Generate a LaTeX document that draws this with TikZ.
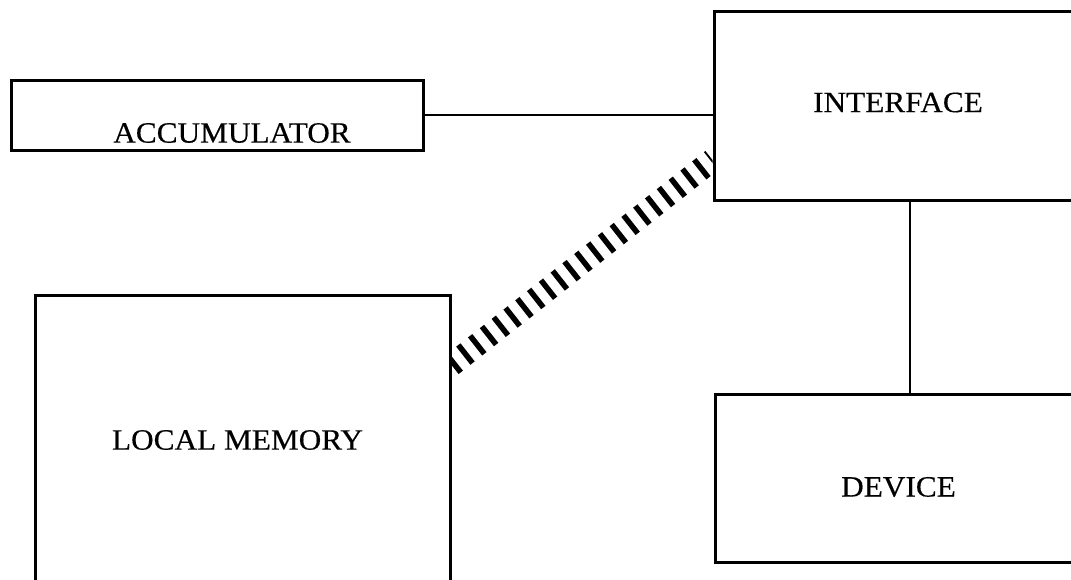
\documentclass[tikz,border=0pt]{standalone}
\usepackage{fontspec}
\setmainfont[FakeStretch=1.06,FakeBold=0.4]{Liberation Serif}
\usetikzlibrary{calc}
\begin{document}
\begin{tikzpicture}[x=1pt,y=-1pt,
  box/.style={draw, line width=3pt, rectangle, inner sep=0pt},
  lbl/.style={font=\fontsize{29.5}{32}\selectfont, inner sep=0pt},
  wire/.style={line width=2.6pt},
  hatch/.style={line width=23pt, dash pattern=on 5.5pt off 9.5pt}]
\useasboundingbox (0,0) rectangle (1071,579);
\clip (0,0) rectangle (1071,579);
% boxes
\node[box, minimum width=368pt, minimum height=189pt] (iface) at (898,105.5) {};
\node[box, minimum width=367pt, minimum height=168pt] (dev) at (898.5,478) {};
\node[box, minimum width=412pt, minimum height=70pt] (acc) at (217,115) {};
\node[box, minimum width=415pt, minimum height=320pt] (mem) at (242.5,455) {};
% labels
\node[lbl] (ifacel) at ($(iface.center)+(0,-3)$) {INTERFACE};
\node[lbl] (devl) at ($(dev.center)+(0,9)$) {DEVICE};
\node[lbl] (accl) at ($(acc.center)+(15,18)$) {ACCUMULATOR};
\node[lbl] (meml) at ($(mem.center)+(-5,-15)$) {LOCAL MEMORY};
% connectors
\draw[wire] (acc.east) -- (acc.east -| iface.west);
\coordinate (ib) at ($(iface.south)+(12,0)$);
\draw[wire] (ib) -- (ib |- dev.north);
\coordinate (hs) at (mem.east |- 0,365);
\coordinate (he) at (iface.west |- 0,160);
\begin{scope}
  \clip (hs |- 0,0) rectangle (he |- 0,579);
  \draw[hatch] (hs) -- (he);
\end{scope}
\end{tikzpicture}
\end{document}
